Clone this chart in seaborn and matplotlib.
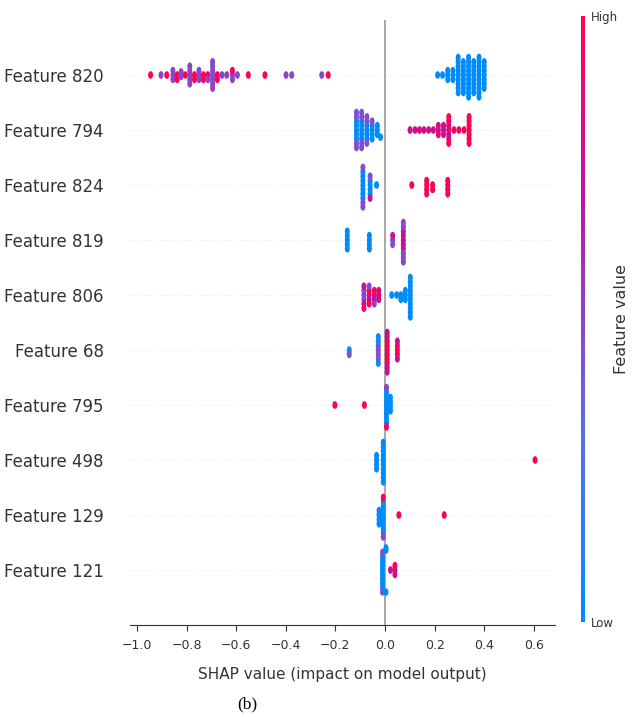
import numpy as np
import pandas as pd
import matplotlib
matplotlib.use("Agg")
import matplotlib.pyplot as plt
import seaborn as sns
from matplotlib.colors import LinearSegmentedColormap, Normalize
from matplotlib.path import Path
from matplotlib.transforms import Affine2D

features = ['Feature 820', 'Feature 794', 'Feature 824', 'Feature 819', 'Feature 806',
            'Feature 68', 'Feature 795', 'Feature 498', 'Feature 129', 'Feature 121']

# (shap value, feature value 0=low .. 1=high, number of dots)
f820 = [(-0.945, 1.0, 1), (-0.903, 0.5, 1), (-0.880, 1.0, 1), (-0.855, 0.5, 3),
        (-0.838, 1.0, 2), (-0.822, 0.5, 2), (-0.805, 1.0, 1), (-0.787, 0.5, 5),
        (-0.768, 1.0, 2), (-0.750, 0.5, 3), (-0.732, 1.0, 2), (-0.714, 1.0, 1),
        (-0.714, 0.5, 1), (-0.695, 0.5, 7), (-0.676, 1.0, 2), (-0.657, 0.5, 1),
        (-0.638, 0.5, 1), (-0.615, 0.5, 2), (-0.615, 1.0, 1), (-0.595, 0.5, 1),
        (-0.551, 1.0, 1), (-0.484, 1.0, 1), (-0.399, 0.5, 1), (-0.376, 0.5, 1),
        (-0.255, 0.5, 1), (-0.229, 1.0, 1),
        (0.212, 0.0, 1), (0.232, 0.0, 1), (0.253, 0.0, 3), (0.274, 0.0, 3),
        (0.295, 0.0, 9), (0.316, 0.0, 8), (0.337, 0.0, 10), (0.358, 0.0, 8),
        (0.379, 0.0, 10), (0.400, 0.0, 7)]
f794 = [(-0.115, 0.0, 5), (-0.115, 0.45, 4), (-0.094, 0.0, 5), (-0.094, 0.45, 4),
        (-0.073, 0.0, 4), (-0.073, 0.45, 3), (-0.052, 0.0, 4), (-0.052, 0.45, 1),
        (-0.031, 0.0, 3), (-0.018, 0.0, 1),
        (0.101, 0.8, 1), (0.121, 0.8, 1), (0.139, 0.8, 1), (0.157, 0.8, 1),
        (0.176, 0.8, 1), (0.195, 0.8, 1), (0.215, 0.8, 3), (0.236, 0.8, 3),
        (0.257, 0.8, 4), (0.257, 1.0, 3), (0.278, 1.0, 1), (0.298, 0.9, 1),
        (0.319, 1.0, 1), (0.339, 1.0, 7)]
f824 = [(-0.089, 0.0, 7), (-0.089, 0.45, 3), (-0.060, 0.0, 4), (-0.060, 0.45, 1),
        (-0.060, 0.75, 1), (-0.034, 0.0, 1), (0.108, 1.0, 1), (0.168, 1.0, 4),
        (0.192, 1.0, 2), (0.253, 1.0, 4)]
f819 = [(-0.152, 0.0, 5), (-0.063, 0.0, 4), (0.031, 0.45, 2), (0.031, 0.75, 1),
        (0.074, 0.75, 5), (0.074, 0.5, 5)]
f806 = [(-0.085, 0.5, 3), (-0.085, 0.75, 2), (-0.085, 1.0, 1), (-0.064, 0.75, 2),
        (-0.064, 1.0, 2), (-0.064, 0.5, 1), (-0.043, 0.75, 2), (-0.043, 1.0, 1),
        (-0.043, 0.5, 1), (-0.025, 1.0, 1), (-0.025, 0.75, 2),
        (0.027, 0.0, 1), (0.047, 0.0, 1), (0.064, 0.0, 2), (0.082, 0.0, 3),
        (0.102, 0.0, 10)]
f68 = [(-0.144, 0.05, 1), (-0.144, 0.45, 1), (-0.027, 0.45, 4), (-0.027, 0.05, 3),
       (0.009, 1.0, 6), (0.009, 0.75, 4), (0.050, 1.0, 3), (0.050, 0.75, 2)]
f795 = [(-0.202, 1.0, 1), (-0.083, 1.0, 1), (0.006, 0.0, 8), (0.006, 0.5, 1),
        (0.006, 1.0, 1), (0.022, 0.0, 4)]
f498 = [(-0.034, 0.0, 4), (-0.007, 0.0, 10), (0.605, 1.0, 1)]
f129 = [(-0.024, 0.0, 4), (-0.007, 0.0, 8), (-0.007, 1.0, 1), (-0.007, 0.5, 1),
        (0.056, 1.0, 1), (0.239, 1.0, 1)]
f121 = [(-0.010, 0.0, 8), (-0.010, 0.45, 2), (0.004, 0.0, 3), (0.022, 0.75, 1),
        (0.040, 0.8, 2), (0.040, 1.0, 1)]

xticks = [-1.0, -0.8, -0.6, -0.4, -0.2, 0.0, 0.2, 0.4, 0.6]

rows = []
for name, pts in zip(features, [f820, f794, f824, f819, f806, f68, f795, f498, f129, f121]):
    for x, v, n in pts:
        rows += [(name, x, v)] * n
df = pd.DataFrame(rows, columns=['feature', 'shap', 'value'])

# shap-like red/blue colormap
shap_cmap = LinearSegmentedColormap.from_list(
    'red_blue', [(0.0, '#008bfb'), (0.3, '#5a6fe6'), (0.5, '#8c44c8'),
                 (0.72, '#c1129f'), (1.0, '#ff0052')])

fig = plt.figure(figsize=(6.32, 7.17), dpi=100)
ax = fig.add_axes([0.2057, 0.1283, 0.6723, 0.8438])

sns.swarmplot(data=df, x='shap', y='feature', hue='value', order=features,
              palette=shap_cmap, hue_norm=(0, 1), size=3.0, linewidth=0,
              legend=False, orient='h', ax=ax, warn_thresh=1)

# dots drawn a bit larger (and taller) than the swarm spacing, like the squeezed original
ellipse = Path.unit_circle().transformed(Affine2D().scale(0.6, 0.92))
for coll in ax.collections:
    coll.set_paths([ellipse])

for i in range(len(features)):
    ax.axhline(i, color='#cccccc', lw=0.6, dashes=(1, 5), zorder=-1)
ax.axvline(0, color='#999999', lw=1.2, zorder=-1)

ax.set_xlim(-1.028, 0.685)
ax.set_ylim(10, -1)
for s in ['left', 'top', 'right']:
    ax.spines[s].set_visible(False)
ax.spines['bottom'].set_color('#333333')
ax.set_xticks(xticks)
ax.tick_params(axis='y', length=0, pad=19, labelsize=12, labelcolor='#333333')
ax.tick_params(axis='x', length=4, width=0.8, color='#333333', labelsize=9,
               labelcolor='#333333', pad=6)
ax.set_xlabel('SHAP value (impact on model output)', fontsize=11, color='#333333', labelpad=11)
ax.set_ylabel('')

cax = fig.add_axes([0.9193, 0.1325, 0.0063, 0.845])
sm = plt.cm.ScalarMappable(cmap=shap_cmap, norm=Normalize(0, 1))
cb = fig.colorbar(sm, cax=cax, ticks=[0, 1])
cb.set_ticklabels(['Low', 'High'])
cb.outline.set_visible(False)
cax.tick_params(length=0, labelsize=8.5, pad=4, labelcolor='#333333')
cb.set_label('Feature value', size=11.5, labelpad=-2.5, color='#333333')

fig.text(0.392, 0.017, '(b)', family='Liberation Serif', size=12.5, ha='center', va='center')

fig.savefig('out.png', dpi=100)
